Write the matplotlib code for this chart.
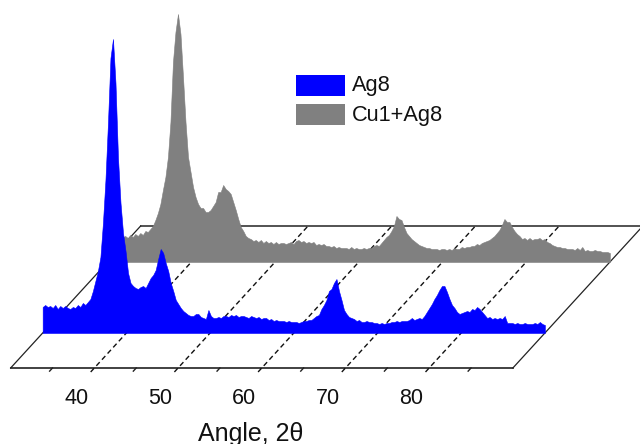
"""
Waterfall of two diffraction patterns on a slanted floor.
"""
import numpy as np
from matplotlib import pyplot as plt
from matplotlib.patches import Rectangle

plt.rcParams['font.family'] = ['Liberation Sans', 'DejaVu Sans']

# Heights, one every 0.3 degree from 30 to 90
ag8 = [
    26, 28, 26, 27, 25, 28, 24, 27, 25, 27, 25, 24, 26, 25, 28, 26, 30, 28, 31, 34,
    42, 52, 62, 76, 110, 153, 210, 275, 294, 250, 175, 130, 100, 82, 60, 50, 47, 45, 44, 46,
    47, 45, 50, 55, 58, 63, 74, 84, 80, 70, 62, 50, 42, 33, 29, 25, 22, 20, 18, 17,
    17, 19, 19, 16, 15, 14, 23, 17, 15, 15, 16, 15, 17, 17, 16, 18, 17, 18, 16, 17,
    17, 16, 15, 17, 16, 15, 16, 14, 15, 15, 13, 14, 12, 13, 12, 12, 12, 11, 12, 11,
    11, 11, 10, 11, 12, 12, 13, 13, 15, 17, 18, 24, 28, 33, 42, 44, 50, 54, 42, 33,
    23, 19, 16, 15, 14, 12, 13, 11, 11, 12, 11, 11, 10, 10, 9, 10, 9, 10, 10, 11,
    11, 12, 11, 12, 12, 12, 13, 15, 13, 14, 15, 14, 17, 21, 25, 29, 34, 38, 43, 47,
    47, 41, 34, 28, 25, 21, 19, 20, 21, 22, 21, 24, 23, 26, 24, 21, 18, 15, 16, 14,
    15, 14, 15, 14, 17, 10, 10, 10, 9, 10, 9, 9, 10, 9, 9, 9, 10, 9, 11, 9,
    8,
]
cu1_ag8 = [
    24, 25, 23, 26, 24, 23, 25, 26, 24, 27, 25, 28, 26, 29, 27, 31, 30, 33, 36, 42,
    49, 58, 72, 85, 105, 140, 200, 230, 248, 228, 185, 140, 105, 90, 75, 65, 58, 54, 54, 50,
    50, 52, 56, 60, 70, 70, 77, 73, 71, 68, 60, 52, 43, 35, 31, 26, 24, 23, 21, 22,
    20, 22, 19, 21, 19, 20, 18, 20, 18, 19, 19, 18, 19, 20, 18, 21, 22, 20, 21, 19,
    20, 19, 20, 17, 18, 17, 18, 16, 16, 15, 16, 14, 15, 14, 14, 14, 13, 15, 13, 14,
    13, 13, 14, 13, 14, 14, 16, 17, 16, 19, 22, 25, 27, 31, 36, 46, 43, 42, 35, 29,
    26, 23, 21, 19, 17, 16, 15, 14, 14, 13, 13, 13, 12, 13, 13, 12, 13, 12, 14, 13,
    13, 15, 14, 15, 15, 16, 16, 18, 17, 19, 20, 21, 22, 24, 26, 29, 32, 37, 43, 40,
    40, 35, 31, 28, 26, 23, 24, 22, 24, 22, 23, 23, 24, 22, 23, 20, 19, 17, 16, 15,
    15, 14, 14, 13, 13, 13, 12, 14, 12, 15, 11, 12, 11, 11, 12, 11, 11, 10, 10, 10,
    9,
]
angle_start = 30
angle_step = 0.3
major_ticks = [40, 50, 60, 70, 80]
minor_ticks = [35, 45, 55, 65, 75, 85]
tick_labels = ['40', '50', '60', '70', '80']
series_names = ['Ag8', 'Cu1+Ag8']

# Floor shape: how far the back edge is shifted from the front edge
slant_x = 15.53
slant_y = 142
ag8_depth = 35 / 142
cu_depth = 106 / 142
floor_start, floor_end = 30, 90


def shift(angles, heights, depth):
    """
    Moves points of the floor towards the back according to depth (0 front, 1 back).
    """
    return np.asarray(angles, dtype=float) + slant_x * depth, np.asarray(heights, dtype=float) + slant_y * depth


def draw_series(ax, values, depth, color, zorder):
    angles = angle_start + angle_step * np.arange(len(values))
    x, y = shift(angles, values, depth)
    base = np.full(len(values), slant_y * depth)
    ax.fill_between(x, base, y, color=color, linewidth=0.4, zorder=zorder)


fig = plt.figure(figsize=(6.4, 4.44), dpi=100)
ax = fig.add_axes([0, 0, 1, 1])
ax.set_xlim(28.73, 105.19)
ax.set_ylim(-76, 368)
ax.axis('off')

# Floor outline
x_front, y_front = shift([floor_start, floor_end], [0, 0], 0)
x_back, y_back = shift([floor_start, floor_end], [0, 0], 1)
ax.plot(x_front, y_front, color='#333333', lw=1.3, zorder=1)
ax.plot(x_back, y_back, color='#444444', lw=1.3, zorder=1)
ax.plot([x_front[0], x_back[0]], [y_front[0], y_back[0]], color='#222222', lw=0.9, zorder=1)
ax.plot([x_front[1], x_back[1]], [y_front[1], y_back[1]], color='#222222', lw=0.9, zorder=1)

# Dashed lines across the floor, they also make the major ticks
for tick in major_ticks:
    x_line, y_line = shift([tick, tick], [0, 0], np.array([-0.028, 1]))
    ax.plot(x_line, y_line, color='#111111', lw=1.0, linestyle=(0, (3.6, 2.4)), zorder=1)
for tick in minor_ticks:
    x_line, y_line = shift([tick, tick], [0, 0], np.array([-0.022, 0]))
    ax.plot(x_line, y_line, color='#222222', lw=1.0, zorder=1)

draw_series(ax, cu1_ag8, cu_depth, '#808080', 2)
draw_series(ax, ag8, ag8_depth, '#0000ff', 3)

for pos, label in zip(major_ticks, tick_labels):
    ax.text(pos - 2.15, -30, label, ha='center', va='center', fontsize=15.5, color='#111111')
ax.text(58.65, -65.5, 'Angle, 2\u03b8', ha='center', va='center', fontsize=18, color='#111111')

# Legend drawn by hand, the boxes are wide and sit in the middle of the chart
for row, (name, color) in enumerate(zip(series_names, ['#0000ff', '#808080'])):
    top = 292.5 - 29 * row
    ax.add_patch(Rectangle((64.1, top - 21), 5.85, 21, facecolor=color, edgecolor='none', zorder=4))
    ax.text(70.8, top - 10.5, name, ha='left', va='center', fontsize=15.7, color='#111111')

fig.savefig('out.png', dpi=100)
